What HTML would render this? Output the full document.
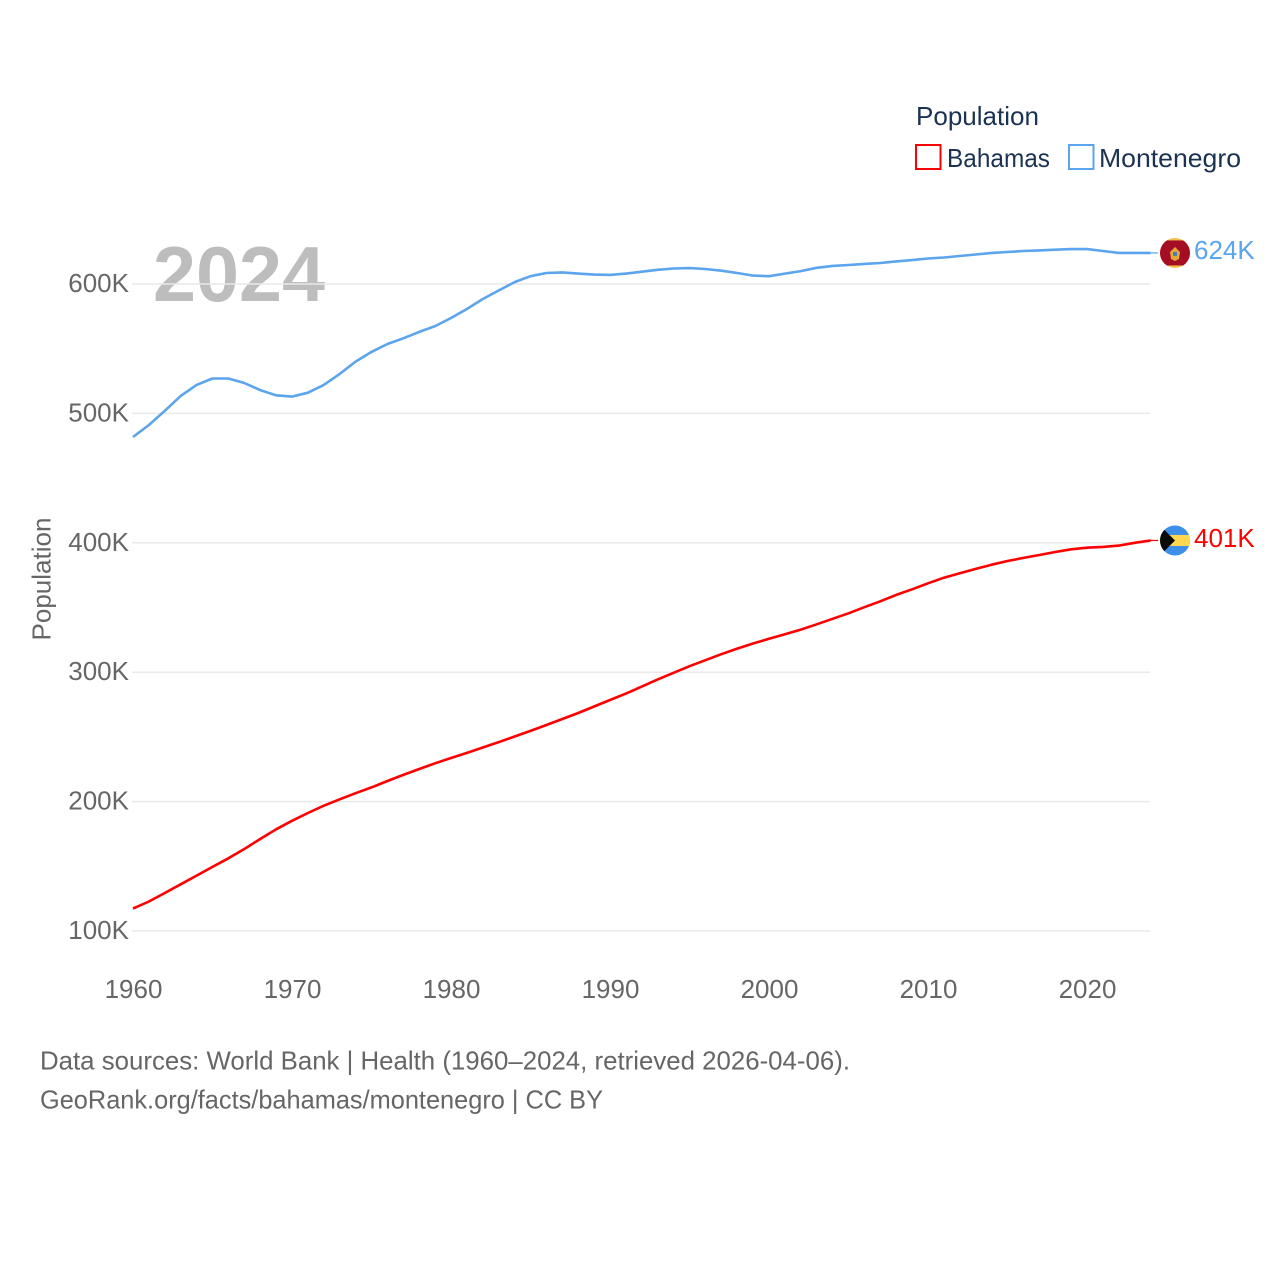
<!DOCTYPE html>
<html lang="en">
<head>
<meta charset="utf-8">
<title>Population: Bahamas and Montenegro</title>
<style>
html,body{margin:0;padding:0;background:#fff;width:1280px;height:1280px;overflow:hidden}
svg{display:block;font-family:"Liberation Sans",sans-serif}
</style>
</head>
<body>
<svg id="chart" xmlns="http://www.w3.org/2000/svg" width="1280" height="1280" viewBox="0 0 1280 1280">
  <defs>
    <clipPath id="flag-clip-me"><circle id="clip-me" cx="1175" cy="253" r="15"></circle></clipPath>
    <clipPath id="flag-clip-bs"><circle id="clip-bs" cx="1175" cy="541" r="15"></circle></clipPath>
  </defs>
  <text x="153" y="301" font-size="78" font-weight="bold" fill="#bdbdbd" textLength="172" lengthAdjust="spacingAndGlyphs">2024</text>
  <g id="grid"></g>
  <g id="y-axis"></g>
  <g id="x-axis"></g>
  <g id="series"></g>
  <g id="ends"></g>

  <text transform="translate(50.5,579) rotate(-90)" text-anchor="middle" font-size="26" fill="#666666" textLength="123" lengthAdjust="spacingAndGlyphs">Population</text>

  <g>
    <text x="916" y="125" font-size="26" fill="#1b3252" textLength="123" lengthAdjust="spacingAndGlyphs">Population</text>
    <rect x="916" y="145" width="24.5" height="24" fill="none" stroke="#ff0000" stroke-width="2"></rect>
    <text x="947" y="167" font-size="26" fill="#1b3252" textLength="103" lengthAdjust="spacingAndGlyphs">Bahamas</text>
    <rect x="1069" y="145" width="24.5" height="24" fill="none" stroke="#5ba4ee" stroke-width="2"></rect>
    <text x="1099" y="167" font-size="26" fill="#1b3252" textLength="142" lengthAdjust="spacingAndGlyphs">Montenegro</text>
  </g>

  <g>
    <text x="40" y="1069.5" font-size="26" fill="#666666" textLength="810" lengthAdjust="spacingAndGlyphs">Data sources: World Bank | Health (1960–2024, retrieved 2026-04-06).</text>
    <text x="40" y="1108.5" font-size="26" fill="#666666" textLength="563" lengthAdjust="spacingAndGlyphs">GeoRank.org/facts/bahamas/montenegro | CC BY</text>
  </g>
</svg>
<script>
var startYear = 1960;
var bahamasK = [117.3,122.8,129.4,136.1,142.8,149.5,156.2,163.4,171.1,178.6,185.2,191.2,196.8,201.8,206.5,211.0,215.9,220.6,225.2,229.6,233.7,237.6,241.8,246.0,250.3,254.6,259.2,263.8,268.5,273.5,278.5,283.5,288.9,294.4,299.5,304.6,309.3,313.9,318.2,322.2,325.8,329.4,332.9,337.0,341.3,345.5,350.2,354.8,359.7,364.1,368.7,373.0,376.4,379.8,383.1,385.9,388.3,390.6,392.9,395.0,396.2,396.8,397.8,400.0,401.8];
var montenegroK = [481.8,491.0,502.0,513.5,522.0,527.0,527.0,523.5,518.0,514.0,513.0,516.0,522.0,530.5,540.0,547.5,553.6,558.0,563.0,567.5,573.7,580.7,588.4,595.0,601.5,606.0,608.5,609.0,608.0,607.3,607.0,608.0,609.5,611.0,612.0,612.3,611.6,610.3,608.5,606.5,606.0,608.0,610.0,612.5,614.0,614.7,615.5,616.2,617.5,618.5,619.7,620.5,621.6,622.8,624.0,624.7,625.5,626.0,626.5,627.0,627.0,625.5,624.0,624.0,624.0];
var yTickValues = [100,200,300,400,500,600];
var xTickValues = [1960,1970,1980,1990,2000,2010,2020];
var endLabels = ["401K","624K"];

var NS = "http://www.w3.org/2000/svg";
function xScale(year){ return 133 + (year - 1960) * 15.9; }
function yScale(k){ return 931 - (k - 100) * 1.294; }
function make(tag, attrs, parent){
  var el = document.createElementNS(NS, tag);
  for (var a in attrs) el.setAttribute(a, attrs[a]);
  parent.appendChild(el);
  return el;
}

var grid = document.getElementById("grid");
var yAxis = document.getElementById("y-axis");
var xAxis = document.getElementById("x-axis");
var series = document.getElementById("series");
var ends = document.getElementById("ends");

yTickValues.forEach(function(v){
  var line = make("line", {x1:132, x2:1150, y1:yScale(v), y2:yScale(v), stroke:"#e9e9e9", "stroke-width":1.5}, grid);
  
  
  var label = make("text", {x:129, y:yScale(v)+8, "text-anchor":"end", "font-size":26, fill:"#666666"}, yAxis);
  
  
  label.textContent = v + "K";
});

xTickValues.forEach(function(v){
  var label = make("text", {x:xScale(v)+0.5, y:998, "text-anchor":"middle", "font-size":26, fill:"#666666"}, xAxis);
  
  
  label.textContent = v;
});

function pointsFor(values){
  return values.map(function(v, i){ return xScale(startYear + i).toFixed(1) + "," + yScale(v).toFixed(1); }).join(" ");
}

var lineB = make("polyline", {points:pointsFor(bahamasK), fill:"none", stroke:"#ff0000", "stroke-width":2.6, "stroke-linejoin":"round"}, series);


var lineM = make("polyline", {points:pointsFor(montenegroK), fill:"none", stroke:"#5ba4ee", "stroke-width":2.6, "stroke-linejoin":"round"}, series);



var lastYear = startYear + bahamasK.length - 1;
var yB = yScale(bahamasK[bahamasK.length - 1]);
var yM = yScale(montenegroK[montenegroK.length - 1]);

var connB = make("line", {x1:xScale(lastYear), x2:1158, y1:yB, y2:yB, stroke:"#ff0000", "stroke-width":1.2}, ends);


var connM = make("line", {x1:xScale(lastYear), x2:1158, y1:yM, y2:yM, stroke:"#5ba4ee", "stroke-width":1.2}, ends);



document.getElementById("clip-bs").setAttribute("cy", yB);
document.getElementById("clip-me").setAttribute("cy", yM);

var flagB = make("g", {"clip-path":"url(#flag-clip-bs)"}, ends);


make("rect", {x:1160, y:yB-15, width:30, height:30, fill:"#3d8fe8"}, flagB);
make("rect", {x:1160, y:yB-5.5, width:30, height:11, fill:"#ffd84f"}, flagB);
make("polygon", {points:"1160,"+(yB-15)+" 1175,"+yB+" 1160,"+(yB+15), fill:"#0a0a0a"}, flagB);

var flagM = make("g", {"clip-path":"url(#flag-clip-me)"}, ends);


make("rect", {x:1160, y:yM-15, width:30, height:30, fill:"#f0c24a"}, flagM);
make("rect", {x:1160, y:yM-12.5, width:30, height:25, fill:"#a50d24"}, flagM);
make("polygon", {points:"1175,"+(yM-6)+" 1180,"+(yM-1)+" 1179,"+(yM+6)+" 1175,"+(yM+8)+" 1171,"+(yM+6)+" 1170,"+(yM-1), fill:"#e0a93a"}, flagM);
make("rect", {x:1173, y:yM-1, width:4, height:4, fill:"#4c7fb0"}, flagM);

var labelB = make("text", {x:1194, y:yB+6.5, "font-size":26, fill:"#ff0000"}, ends);


labelB.textContent = endLabels[0];
var labelM = make("text", {x:1194, y:yM+6, "font-size":26, fill:"#5ba4ee"}, ends);


labelM.textContent = endLabels[1];
</script>
</body>
</html>
